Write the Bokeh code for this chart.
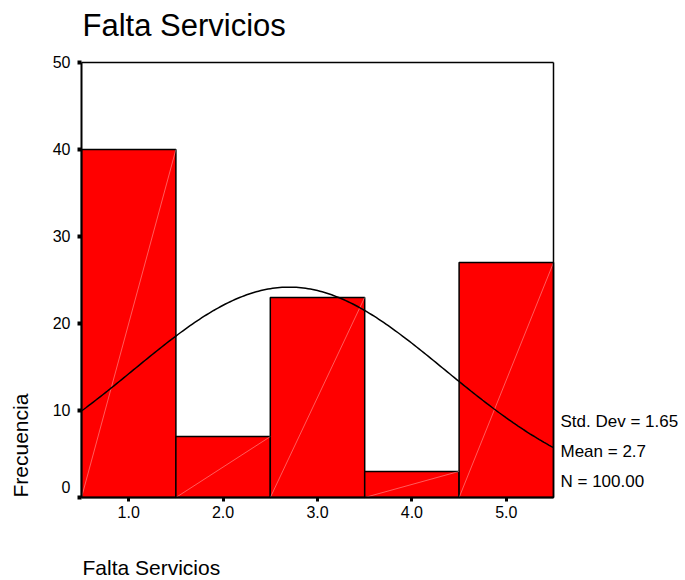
import math
from bokeh.plotting import figure
from bokeh.models import Range1d, FixedTicker, ColumnDataSource, LinearAxis, Label, Grid
from bokeh.embed import file_html
from bokeh.resources import INLINE

# ---- data ----
categories = [1.0, 2.0, 3.0, 4.0, 5.0]
tick_labels = ["1.0", "2.0", "3.0", "4.0", "5.0"]
frequencies = [40, 7, 23, 3, 27]
y_ticks = [0, 10, 20, 30, 40, 50]
std_dev = 1.65
mean = 2.7
n_total = 100.0
bin_width = 1.0
stats_lines = ["Std. Dev = 1.65", "Mean = 2.7", "N = 100.00"]
title_text = "Falta Servicios"
x_label_text = "Falta Servicios"
y_label_text = "Frecuencia"

FONT = "Liberation Sans"

# ---- layout (pixels) ----
W, H = 685, 580
FL, FR, FT, FB = 81, 553, 62, 497   # plot box edges
BASE_FIX = 8                         # baseline correction of rendered labels

x_lo = categories[0] - bin_width / 2
x_hi = categories[-1] + bin_width / 2
y_lo, y_hi = y_ticks[0], y_ticks[-1]
sx = (FR - FL) / (x_hi - x_lo)
sy = (FB - FT) / (y_hi - y_lo)


def dx(px):
    return x_lo + (px - FL) / sx


def dy(py):
    return y_lo + (FB - py) / sy


p = figure(width=W, height=H,
           x_range=Range1d(dx(0), dx(W)), y_range=Range1d(dy(H), dy(0)),
           output_backend="svg", toolbar_location=None, title=None,
           x_axis_location=None, y_axis_location=None,
           min_border_left=0, min_border_right=0, min_border_top=0, min_border_bottom=0)
p.outline_line_color = None
p.background_fill_color = "white"
p.border_fill_color = "white"
for g in p.select(type=Grid):
    g.visible = False

# bars
lefts = [c - bin_width / 2 for c in categories]
rights = [c + bin_width / 2 for c in categories]
src = ColumnDataSource(dict(left=lefts, right=rights, top=frequencies,
                            bottom=[0] * len(categories)))
p.quad(left="left", right="right", top="top", bottom="bottom", source=src,
       fill_color="#FF0000", line_color="black", line_width=1.5)
# faint diagonal artifacts of the original rendering
p.segment(x0="left", y0="bottom", x1="right", y1="top", source=src,
          line_color="white", line_width=0.6, line_alpha=0.6)

# normal curve (from the chart's own Mean / Std. Dev / N)
steps = 200
xs = [x_lo + (x_hi - x_lo) * i / steps for i in range(steps + 1)]
ys = [n_total * bin_width / (std_dev * math.sqrt(2 * math.pi)) *
      math.exp(-0.5 * ((x - mean) / std_dev) ** 2) for x in xs]
p.line(xs, ys, line_color="black", line_width=1.5)

# axes, fixed onto the plot box
common = dict(minor_tick_line_color=None, major_tick_in=0, major_label_text_font=FONT,
              major_label_text_font_size="16px", major_label_text_color="black")

xa = LinearAxis(fixed_location=y_lo, bounds=(x_lo, x_hi),
                ticker=FixedTicker(ticks=categories),
                major_label_overrides={c: t for c, t in zip(categories, tick_labels)},
                major_tick_out=4, major_tick_line_width=3, axis_line_width=2,
                major_label_standoff=4, **common)
p.add_layout(xa, "below")

# the lowest y label sits a little higher than its tick in the original
ya = LinearAxis(fixed_location=x_lo, bounds=(y_lo, y_hi),
                ticker=FixedTicker(ticks=y_ticks),
                major_label_overrides={y_ticks[0]: " "},
                major_tick_out=4, major_tick_line_width=4, axis_line_width=2,
                major_label_standoff=7, **common)
p.add_layout(ya, "left")
p.add_layout(Label(x=dx(70), y=dy(494 - BASE_FIX), text=str(y_ticks[0]), text_font=FONT,
                   text_font_size="16px", text_align="right", text_baseline="alphabetic",
                   text_color="black"))

ta = LinearAxis(fixed_location=y_hi, bounds=(x_lo, x_hi), ticker=FixedTicker(ticks=[]),
                axis_line_width=1.5, major_tick_line_color=None, minor_tick_line_color=None,
                major_label_text_font_size="0px")
p.add_layout(ta, "above")
ra = LinearAxis(fixed_location=x_hi, bounds=(y_lo, y_hi), ticker=FixedTicker(ticks=[]),
                axis_line_width=1.5, major_tick_line_color=None, minor_tick_line_color=None,
                major_label_text_font_size="0px")
p.add_layout(ra, "right")

# texts (baselines in pixels, corrected)
p.add_layout(Label(x=dx(82), y=dy(33 - BASE_FIX), text=title_text, text_font=FONT,
                   text_font_size="31px", text_align="left", text_baseline="alphabetic",
                   text_color="black"))
p.add_layout(Label(x=dx(82), y=dy(575 - BASE_FIX), text=x_label_text, text_font=FONT,
                   text_font_size="21px", text_align="left", text_baseline="alphabetic",
                   text_color="black"))
p.add_layout(Label(x=dx(28 - BASE_FIX), y=dy(497), text=y_label_text, text_font=FONT,
                   text_font_size="21px", text_align="left", text_baseline="alphabetic",
                   angle=math.pi / 2, text_color="black"))
for i, s in enumerate(stats_lines):
    p.add_layout(Label(x=dx(560), y=dy(429 + 30 * i - BASE_FIX), text=s, text_font=FONT,
                       text_font_size="17px", text_align="left", text_baseline="alphabetic",
                       text_color="black"))

open("out.html", "w").write(file_html(p, INLINE))
